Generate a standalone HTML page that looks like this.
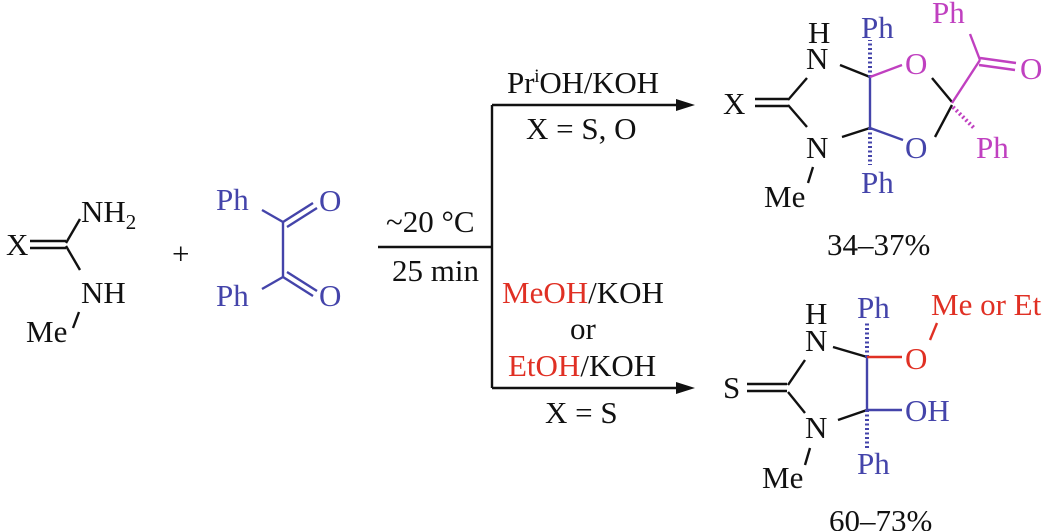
<!DOCTYPE html>
<html><head><meta charset="utf-8"><style>
html,body{margin:0;padding:0;background:#fff;}
svg{display:block;}
text{font-family:"Liberation Serif",serif;font-size:31px;}
.b{fill:#4444aa}.m{fill:#c040c0}.r{fill:#e03024}.k{fill:#111}
</style></head><body>
<svg width="1056" height="531" viewBox="0 0 1056 531">
<g stroke="#111" stroke-width="2.4" fill="none">
<line x1="30" y1="241" x2="66" y2="241"/><line x1="30" y1="248" x2="66" y2="248"/>
<line x1="66" y1="243" x2="80" y2="219"/><line x1="66" y1="246" x2="80" y2="270"/>
<line x1="79" y1="312" x2="73" y2="328"/>
<line x1="378" y1="247" x2="492" y2="247"/>
<line x1="492" y1="105" x2="492" y2="388"/>
<line x1="492" y1="105" x2="682" y2="105"/>
<line x1="492" y1="388" x2="682" y2="388"/>
<line x1="755" y1="99" x2="788" y2="99"/><line x1="755" y1="106" x2="788" y2="106"/>
<line x1="788" y1="100" x2="807" y2="78"/><line x1="788" y1="105" x2="807" y2="127"/>
<line x1="840" y1="65" x2="870" y2="77"/><line x1="842" y1="137" x2="870" y2="128"/>
<line x1="813" y1="167" x2="808" y2="183"/>
<line x1="932" y1="78" x2="952" y2="102"/><line x1="935" y1="137" x2="952" y2="105"/>
<line x1="747" y1="384" x2="787" y2="384"/><line x1="747" y1="391" x2="787" y2="391"/>
<line x1="788" y1="385" x2="805" y2="360"/><line x1="788" y1="392" x2="805" y2="413"/>
<line x1="833" y1="347" x2="867" y2="357"/><line x1="838" y1="420" x2="867" y2="410"/>
<line x1="810" y1="448" x2="805" y2="465"/>
</g>
<polygon points="695,105 676,99 676,111" fill="#111"/>
<polygon points="695,388 676,382 676,394" fill="#111"/>
<g stroke="#4444aa" stroke-width="2.4" fill="none">
<line x1="262" y1="210" x2="283" y2="222"/><line x1="283" y1="222" x2="283" y2="277"/>
<line x1="283" y1="222" x2="313" y2="203"/><line x1="287" y1="227" x2="317" y2="208"/>
<line x1="262" y1="289" x2="283" y2="277"/>
<line x1="283" y1="277" x2="313" y2="296"/><line x1="287" y1="272" x2="317" y2="291"/>
<line x1="870" y1="77" x2="870" y2="128"/><line x1="870" y1="128" x2="903" y2="140"/>
<line x1="870" y1="77" x2="870" y2="40" stroke-dasharray="2 2.5" stroke-width="4"/>
<line x1="870" y1="128" x2="870" y2="165" stroke-dasharray="2 2.5" stroke-width="4"/>
<line x1="867" y1="357" x2="867" y2="410"/><line x1="867" y1="410" x2="902" y2="410"/>
<line x1="867" y1="357" x2="867" y2="321" stroke-dasharray="2 2.5" stroke-width="4"/>
<line x1="867" y1="410" x2="867" y2="448" stroke-dasharray="2 2.5" stroke-width="4"/>
</g>
<g stroke="#c040c0" stroke-width="2.4" fill="none">
<line x1="870" y1="77" x2="902" y2="65"/>
<line x1="952" y1="103" x2="980" y2="60"/><line x1="980" y1="60" x2="970" y2="34"/>
<line x1="980" y1="58" x2="1016" y2="63"/><line x1="979" y1="65" x2="1015" y2="70"/>
<line x1="953" y1="107" x2="974" y2="128" stroke-dasharray="2 2.5" stroke-width="4"/>
</g>
<g stroke="#e03024" stroke-width="2.4"><line x1="867" y1="357" x2="902" y2="357"/><line x1="930" y1="340" x2="937" y2="323"/></g>
<text x="6" y="255" class="k">X</text>
<text x="81" y="222" class="k">NH<tspan font-size="21" dy="7">2</tspan></text>
<text x="81" y="303" class="k">NH</text>
<text x="26" y="342" class="k">Me</text>
<text x="172" y="264" class="k" font-size="38">+</text>
<text x="216" y="210" class="b">Ph</text><text x="319" y="211" class="b">O</text>
<text x="216" y="306" class="b">Ph</text><text x="319" y="306" class="b">O</text>
<text x="507" y="93" class="k" textLength="152">Pr<tspan font-size="19" dy="-11">i</tspan><tspan dy="11">OH/KOH</tspan></text>
<text x="526" y="139" class="k">X = S, O</text>
<text x="386" y="232" class="k">~20 °C</text>
<text x="392" y="281" class="k">25 min</text>
<text x="502" y="303"><tspan class="r">MeOH</tspan><tspan class="k">/KOH</tspan></text>
<text x="570" y="339" class="k">or</text>
<text x="508" y="376"><tspan class="r">EtOH</tspan><tspan class="k">/KOH</tspan></text>
<text x="545" y="423" class="k">X = S</text>
<text x="808" y="43" class="k">H</text>
<text x="806" y="69" class="k">N</text>
<text x="723" y="114" class="k">X</text>
<text x="806" y="158" class="k">N</text>
<text x="764" y="207" class="k">Me</text>
<text x="861" y="38" class="b">Ph</text>
<text x="861" y="193" class="b">Ph</text>
<text x="905" y="74" class="m">O</text>
<text x="905" y="158" class="b">O</text>
<text x="932" y="23" class="m">Ph</text>
<text x="1020" y="79" class="m">O</text>
<text x="976" y="158" class="m">Ph</text>
<text x="827" y="255" class="k">34–37%</text>
<text x="805" y="324" class="k">H</text>
<text x="805" y="351" class="k">N</text>
<text x="723" y="398" class="k">S</text>
<text x="805" y="438" class="k">N</text>
<text x="762" y="488" class="k">Me</text>
<text x="857" y="318" class="b">Ph</text>
<text x="857" y="474" class="b">Ph</text>
<text x="905" y="369" class="r">O</text>
<text x="931" y="315" class="r">Me or Et</text>
<text x="905" y="421" class="b">OH</text>
<text x="829" y="531" class="k">60–73%</text>
</svg>
</body></html>
